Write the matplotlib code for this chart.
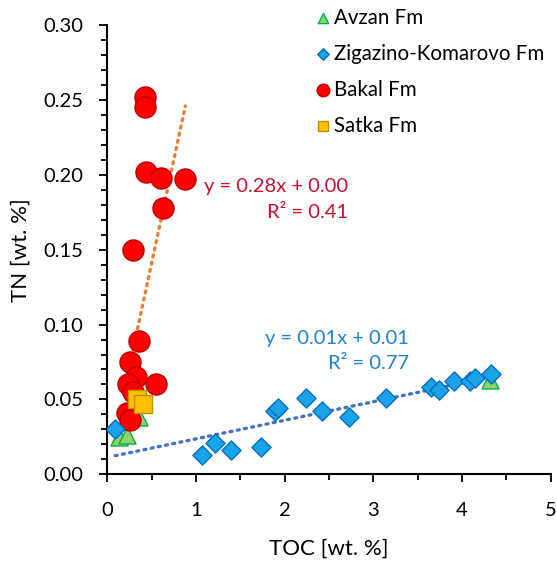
"""
TN vs TOC cross-plot for the four formations, with linear trendlines.
"""
import numpy as np
import matplotlib.pyplot as plt
from matplotlib.ticker import MultipleLocator, FormatStrFormatter

plt.rcParams['font.family'] = ['Lato', 'DejaVu Sans']

# TOC / TN values (wt. %)
avzan_toc = [0.13, 0.22, 0.36, 4.31]
avzan_tn = [0.025, 0.026, 0.038, 0.063]

zk_toc = [0.09, 1.07, 1.21, 1.40, 1.73, 1.89, 1.92, 2.24, 2.42, 2.73,
          3.14, 3.65, 3.74, 3.91, 4.09, 4.14, 4.33]
zk_tn = [0.030, 0.013, 0.021, 0.016, 0.018, 0.042, 0.044, 0.051, 0.042, 0.038,
         0.051, 0.058, 0.056, 0.062, 0.062, 0.064, 0.067]

bakal_toc = [0.42, 0.42, 0.44, 0.60, 0.88, 0.63, 0.29, 0.36, 0.26, 0.32,
             0.23, 0.29, 0.55, 0.22, 0.26]
bakal_tn = [0.252, 0.245, 0.202, 0.198, 0.197, 0.178, 0.150, 0.089, 0.075, 0.065,
            0.060, 0.055, 0.060, 0.041, 0.036]

satka_toc = [0.33, 0.40]
satka_tn = [0.050, 0.047]

# trendline slope / intercept as drawn in the figure
bakal_fit = (0.276, 0.003)
zk_fit = (0.0124, 0.0113)

bakal_eq = ["y = 0.28x + 0.00", "R\u00b2 = 0.41"]
zk_eq = ["y = 0.01x + 0.01", "R\u00b2 = 0.77"]


def trend(ax, x, fit, color):
    """Excel style linear trendline over the range of the data"""
    k, b = fit
    xs = np.array([min(x), max(x)])
    ax.plot(xs, k * xs + b, color=color, lw=2.4, ls=(0, (0.6, 1.6)),
            dash_capstyle='round', zorder=2)


fig = plt.figure(figsize=(5.57, 5.63), dpi=100)
ax = fig.add_axes([0.1926, 0.1575, 0.7963, 0.7981])

trend(ax, bakal_toc, bakal_fit, '#ED7D31')
trend(ax, zk_toc, zk_fit, '#4472C4')

ax.scatter(avzan_toc, avzan_tn, marker='^', s=150, c='#8FD16A',
           edgecolors='#00B050', linewidths=1, zorder=3, label='Avzan Fm')
ax.scatter(zk_toc, zk_tn, marker='D', s=95, c='#1AA3E8',
           edgecolors='#0070C0', linewidths=1, zorder=4,
           label='Zigazino-Komarovo Fm')
ax.scatter(bakal_toc, bakal_tn, marker='o', s=230, c='#FF0000',
           edgecolors='#C00000', linewidths=1, zorder=3, label='Bakal Fm')
ax.scatter(satka_toc, satka_tn, marker='s', s=150, c='#FFC000',
           edgecolors='#BF9000', linewidths=1, zorder=3, label='Satka Fm')

ax.text(2.71, 0.192, bakal_eq[0], color='#C8102E', fontsize=14.5,
        ha='right', va='center')
ax.text(2.71, 0.175, bakal_eq[1], color='#C8102E', fontsize=14.5,
        ha='right', va='center')
ax.text(3.40, 0.0904, zk_eq[0], color='#1F83D0', fontsize=14.5,
        ha='right', va='center')
ax.text(3.40, 0.0743, zk_eq[1], color='#1F83D0', fontsize=14.5,
        ha='right', va='center')

ax.set_xlim(0, 5)
ax.set_ylim(0, 0.30)
ax.xaxis.set_major_locator(MultipleLocator(1))
ax.xaxis.set_minor_locator(MultipleLocator(0.5))
ax.yaxis.set_major_locator(MultipleLocator(0.05))
ax.yaxis.set_minor_locator(MultipleLocator(0.01))
ax.yaxis.set_major_formatter(FormatStrFormatter('%.2f'))
ax.tick_params(which='major', length=6, width=1.3, labelsize=14.5)
ax.tick_params(axis='x', which='major', pad=14)
ax.tick_params(axis='y', which='major', pad=11)
ax.tick_params(which='minor', length=4, width=1.3)
for side in ['top', 'right']:
    ax.spines[side].set_visible(False)
for side in ['left', 'bottom']:
    ax.spines[side].set_linewidth(1.5)

ax.set_xlabel('TOC [wt. %]', fontsize=16, labelpad=14)
ax.set_ylabel('TN [wt. %]', fontsize=16, labelpad=9)

leg = ax.legend(loc='upper left', bbox_to_anchor=(0.445, 1.057), frameon=False,
                fontsize=14.8, handletextpad=0.05, labelspacing=0.78,
                markerscale=0.6, handlelength=1.0, borderaxespad=0)

fig.savefig('out.png', dpi=100)
